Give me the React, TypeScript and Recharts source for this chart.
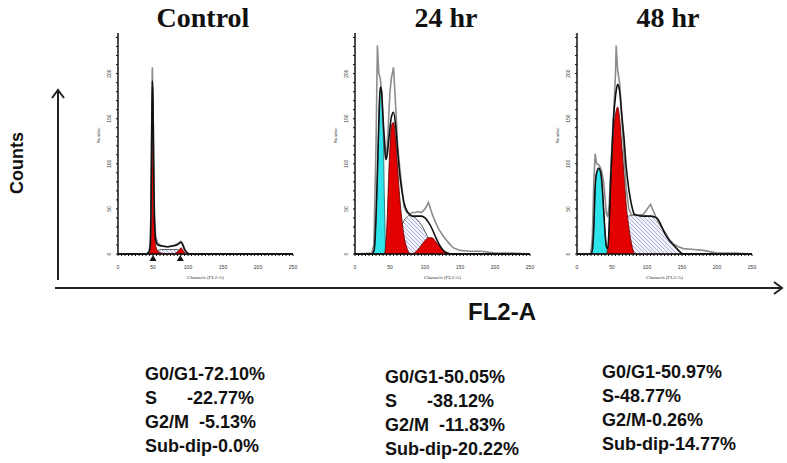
import { ComposedChart, Area, Line, XAxis, YAxis, ReferenceDot } from "recharts";

// FL2-A channel grid and fitted/raw counts per panel
const ctrlCh = [0, 40, 44, 46, 47, 48, 49, 50, 51, 52, 54, 57, 62, 70, 78, 84, 88, 90, 92, 95, 98, 102, 150, 200, 250];
const ctrlRaw = [0, 0, 2, 10, 45, 130, 207, 175, 100, 45, 18, 12, 9, 8, 9, 11, 13, 14, 12, 6, 2, 0, 0, 0, 0];
const ctrlFit = [0, 0, 2, 9, 40, 120, 192, 168, 95, 40, 15, 10, 9, 8, 9, 10, 12, 13, 11, 5, 2, 0, 0, 0, 0];
const ctrlG1 = [0, 0, 1, 7, 35, 115, 190, 165, 88, 33, 9, 3, 1, 0, 0, 0, 0, 0, 0, 0, 0, 0, 0, 0, 0];
const ctrlS = [0, 0, 0, 0, 0, 0, 0, 1, 1, 2, 3, 4, 5, 5, 5, 5, 4, 3, 2, 1, 0, 0, 0, 0, 0];
const ctrlG2 = [0, 0, 0, 0, 0, 0, 0, 0, 0, 0, 0, 0, 0, 0, 0, 2, 5, 7, 5, 2, 0, 0, 0, 0, 0];
const ctrlMarks = [50, 89];

const h24Ch = [0, 24, 27, 30, 32, 34, 36, 38, 40, 42, 44, 46, 48, 50, 52, 55, 58, 61, 64, 67, 70, 74, 78, 82, 86, 90, 95, 100, 105, 110, 115, 120, 126, 132, 140, 150, 165, 180, 200, 225, 250];
const h24Sub = [0, 0, 3, 40, 90, 145, 182, 175, 148, 60, 2, 0, 0, 0, 0, 0, 0, 0, 0, 0, 0, 0, 0, 0, 0, 0, 0, 0, 0, 0, 0, 0, 0, 0, 0, 0, 0, 0, 0, 0, 0];
const h24G1 = [0, 0, 0, 0, 0, 0, 0, 0, 0, 0, 12, 40, 85, 120, 142, 146, 128, 95, 62, 38, 20, 7, 1, 0, 0, 0, 0, 0, 0, 0, 0, 0, 0, 0, 0, 0, 0, 0, 0, 0, 0];
const h24S = [0, 0, 0, 0, 0, 0, 0, 0, 0, 0, 0, 1, 2, 4, 6, 9, 14, 19, 26, 32, 37, 41, 43, 42, 40, 37, 32, 25, 17, 10, 5, 2, 0, 0, 0, 0, 0, 0, 0, 0, 0];
const h24G2 = [0, 0, 0, 0, 0, 0, 0, 0, 0, 0, 0, 0, 0, 0, 0, 0, 0, 0, 0, 0, 0, 0, 0, 0, 2, 5, 10, 15, 18, 18, 14, 9, 4, 1, 0, 0, 0, 0, 0, 0, 0];
const h24Fit = [0, 0, 3, 40, 90, 145, 185, 180, 152, 125, 105, 110, 125, 140, 152, 157, 143, 114, 88, 70, 57, 48, 44, 42, 42, 42, 42, 40, 35, 28, 19, 11, 4, 1, 0, 0, 0, 0, 0, 0, 0];
const h24Raw = [0, 1, 10, 120, 231, 200, 195, 180, 140, 130, 104, 120, 150, 180, 195, 207, 165, 120, 95, 74, 52, 46, 44, 46, 46, 47, 46, 50, 57, 45, 35, 27, 20, 14, 7, 4, 3, 3, 1, 1, 0];

const h48Ch = [0, 18, 20, 22, 24, 26, 28, 31, 34, 36, 38, 40, 42, 44, 46, 48, 50, 52, 55, 56, 58, 61, 64, 67, 70, 74, 78, 82, 86, 95, 105, 114, 120, 126, 132, 138, 145, 152, 167, 181, 200, 225, 250];
const h48Sub = [0, 0, 0, 5, 30, 75, 90, 95, 90, 75, 50, 25, 8, 0, 0, 0, 0, 0, 0, 0, 0, 0, 0, 0, 0, 0, 0, 0, 0, 0, 0, 0, 0, 0, 0, 0, 0, 0, 0, 0, 0, 0, 0];
const h48G1 = [0, 0, 0, 0, 0, 0, 0, 0, 0, 0, 0, 0, 0, 5, 30, 75, 105, 135, 155, 159, 163, 150, 120, 92, 58, 30, 11, 1, 0, 0, 0, 0, 0, 0, 0, 0, 0, 0, 0, 0, 0, 0, 0];
const h48S = [0, 0, 0, 0, 0, 0, 0, 0, 0, 0, 0, 0, 0, 1, 3, 6, 10, 13, 20, 22, 25, 30, 34, 38, 41, 42, 43, 43, 43, 42, 42, 40, 32, 22, 15, 10, 4, 0, 0, 0, 0, 0, 0];
const h48Fit = [0, 0, 0, 5, 30, 75, 90, 95, 90, 75, 50, 25, 8, 6, 33, 81, 115, 148, 175, 181, 188, 180, 154, 130, 99, 72, 54, 44, 43, 42, 42, 40, 32, 22, 15, 10, 4, 0, 0, 0, 0, 0, 0];
const h48Raw = [0, 0, 2, 20, 80, 111, 100, 99, 95, 89, 80, 63, 45, 41, 55, 90, 120, 150, 200, 231, 204, 189, 150, 110, 75, 50, 43, 44, 43, 44, 55, 39, 30, 24, 16, 11, 8, 6, 5, 4, 1, 1, 0];

const xTicks = Array.from({ length: 51 }, (_, i) => i * 5);
const yTicks = Array.from({ length: 25 }, (_, i) => i * 10);

const ctrlStats = ["G0/G1-72.10%", "S      -22.77%", "G2/M  -5.13%", "Sub-dip-0.0%"];
const h24Stats = ["G0/G1-50.05%", "S      -38.12%", "G2/M  -11.83%", "Sub-dip-20.22%"];
const h48Stats = ["G0/G1-50.97%", "S-48.77%", "G2/M-0.26%", "Sub-dip-14.77%"];

type Panel = {
  id: string;
  title: string;
  left: number;
  ch: number[];
  sub?: number[];
  g1: number[];
  s: number[];
  g2?: number[];
  fit: number[];
  raw: number[];
  marks?: number[];
};

const panels: Panel[] = [
  { id: "c", title: "Control", left: 88, ch: ctrlCh, g1: ctrlG1, s: ctrlS, g2: ctrlG2, fit: ctrlFit, raw: ctrlRaw, marks: ctrlMarks },
  { id: "a", title: "24 hr", left: 325, ch: h24Ch, sub: h24Sub, g1: h24G1, s: h24S, g2: h24G2, fit: h24Fit, raw: h24Raw },
  { id: "b", title: "48 hr", left: 547, ch: h48Ch, sub: h48Sub, g1: h48G1, s: h48S, fit: h48Fit, raw: h48Raw },
];

const XTick = ({ x, y, payload }: any) =>
  payload.value % 50 === 0 ? (
    <text x={x} y={y + 11} textAnchor="middle" fontSize={5} fill="#333" fontFamily="Arial">
      {payload.value}
    </text>
  ) : (
    <g />
  );

const YTick = ({ x, y, payload }: any) =>
  payload.value % 50 === 0 ? (
    <text transform={`translate(${x - 3},${y}) rotate(-90)`} textAnchor="middle" fontSize={5} fill="#333" fontFamily="Arial">
      {payload.value}
    </text>
  ) : (
    <g />
  );

const Marker = (props: any) => (
  <path d={`M${props.cx},${props.cy + 1} l3.5,6 h-7 z`} fill="#111" />
);

function Histogram({ p }: { p: Panel }) {
  const rows = p.ch.map((c, i) => ({
    ch: c,
    sub: p.sub ? p.sub[i] : 0,
    g1: p.g1[i],
    s: p.s[i],
    g2: p.g2 ? p.g2[i] : 0,
    fit: p.fit[i],
    raw: p.raw[i],
  }));
  return (
    <div style={{ position: "absolute", left: p.left, top: 28 }}>
      <ComposedChart width={215} height={256} data={rows} margin={{ top: 5, right: 10, bottom: 0, left: 0 }}>
        <defs>
          <pattern id={`hatch-${p.id}`} width="4" height="4" patternUnits="userSpaceOnUse">
            <rect width="4" height="4" fill="#f1f1fa" />
            <path d="M0,0 L4,4 M-1,3 L1,5 M3,-1 L5,1" stroke="#8686c4" strokeWidth="0.6" />
          </pattern>
        </defs>
        <XAxis
          dataKey="ch"
          type="number"
          domain={[0, 250]}
          ticks={xTicks}
          interval={0}
          height={30}
          tickSize={2}
          axisLine={{ stroke: "#111", strokeWidth: 1.5 }}
          tickLine={{ stroke: "#111" }}
          tick={<XTick />}
          label={{ value: "Channels (FL2-A)", position: "insideBottom", offset: 5, fontSize: 5, fill: "#333" }}
        />
        <YAxis
          type="number"
          domain={[0, 245]}
          ticks={yTicks}
          interval={0}
          width={30}
          tickSize={2}
          axisLine={{ stroke: "#111", strokeWidth: 1.5 }}
          tickLine={{ stroke: "#111" }}
          tick={<YTick />}
          label={{ value: "Number", angle: -90, position: "insideLeft", offset: 10, fontSize: 5, fill: "#333" }}
        />
        {p.sub && (
          <Area dataKey="sub" type="monotone" fill="#2ee3ea" fillOpacity={1} stroke="#1b5e62" strokeWidth={0.8} dot={false} activeDot={false} isAnimationActive={false} />
        )}
        <Area dataKey="s" type="monotone" fill={`url(#hatch-${p.id})`} fillOpacity={1} stroke="#333" strokeWidth={0.8} dot={false} activeDot={false} isAnimationActive={false} />
        <Area dataKey="g1" type="monotone" fill="#e30000" fillOpacity={1} stroke="#5a0000" strokeWidth={0.8} dot={false} activeDot={false} isAnimationActive={false} />
        {p.g2 && (
          <Area dataKey="g2" type="monotone" fill="#e30000" fillOpacity={1} stroke="#5a0000" strokeWidth={0.8} dot={false} activeDot={false} isAnimationActive={false} />
        )}
        <Line dataKey="raw" type="linear" stroke="#8c8c8c" strokeWidth={1.6} dot={false} activeDot={false} isAnimationActive={false} />
        <Line dataKey="fit" type="monotone" stroke="#111" strokeWidth={1.6} dot={false} activeDot={false} isAnimationActive={false} />
        {(p.marks || []).map((m) => (
          <ReferenceDot key={m} x={m} y={0} r={3} shape={Marker} ifOverflow="visible" />
        ))}
      </ComposedChart>
    </div>
  );
}

const titleCenters = [203, 446, 668];
const statCols = [
  { left: 145, top: 362, lines: ctrlStats },
  { left: 385, top: 365, lines: h24Stats },
  { left: 602, top: 360, lines: h48Stats },
];

export default function App() {
  return (
    <div style={{ position: "absolute", left: 0, top: 0, width: 787, height: 463, background: "#fff", overflow: "hidden" }}>
      {panels.map((p, i) => (
        <div
          key={p.id}
          style={{
            position: "absolute",
            left: titleCenters[i] - 100,
            top: 2,
            width: 200,
            textAlign: "center",
            fontFamily: "'Liberation Serif', 'Times New Roman', serif",
            fontWeight: "bold",
            fontSize: 28,
            lineHeight: "32px",
            color: "#111",
          }}
        >
          {p.title}
        </div>
      ))}
      {panels.map((p) => (
        <Histogram key={p.id} p={p} />
      ))}
      <svg width={787} height={463} style={{ position: "absolute", left: 0, top: 0, pointerEvents: "none" }}>
        <line x1={58} y1={280} x2={58} y2={91} stroke="#222" strokeWidth={2} />
        <path d="M52,98 L58,90 L64,98" fill="none" stroke="#222" strokeWidth={2} />
        <line x1={55} y1={288} x2={781} y2={288} stroke="#222" strokeWidth={2} />
        <path d="M774,282 L782,288 L774,294" fill="none" stroke="#222" strokeWidth={2} />
        <text
          x={17}
          y={163}
          transform="rotate(-90 17 163)"
          textAnchor="middle"
          dominantBaseline="central"
          fontFamily="'Liberation Sans', Arial, sans-serif"
          fontWeight="bold"
          fontSize={18}
          fill="#111"
        >
          Counts
        </text>
        <text x={502} y={320} textAnchor="middle" fontFamily="'Liberation Sans', Arial, sans-serif" fontWeight="bold" fontSize={24} fill="#111">
          FL2-A
        </text>
      </svg>
      {statCols.map((col, i) => (
        <div
          key={i}
          style={{
            position: "absolute",
            left: col.left,
            top: col.top,
            fontFamily: "'Liberation Sans', Arial, sans-serif",
            fontWeight: "bold",
            fontSize: 18,
            lineHeight: "24px",
            color: "#111",
            whiteSpace: "pre",
          }}
        >
          {col.lines.map((l) => (
            <div key={l}>{l}</div>
          ))}
        </div>
      ))}
    </div>
  );
}
